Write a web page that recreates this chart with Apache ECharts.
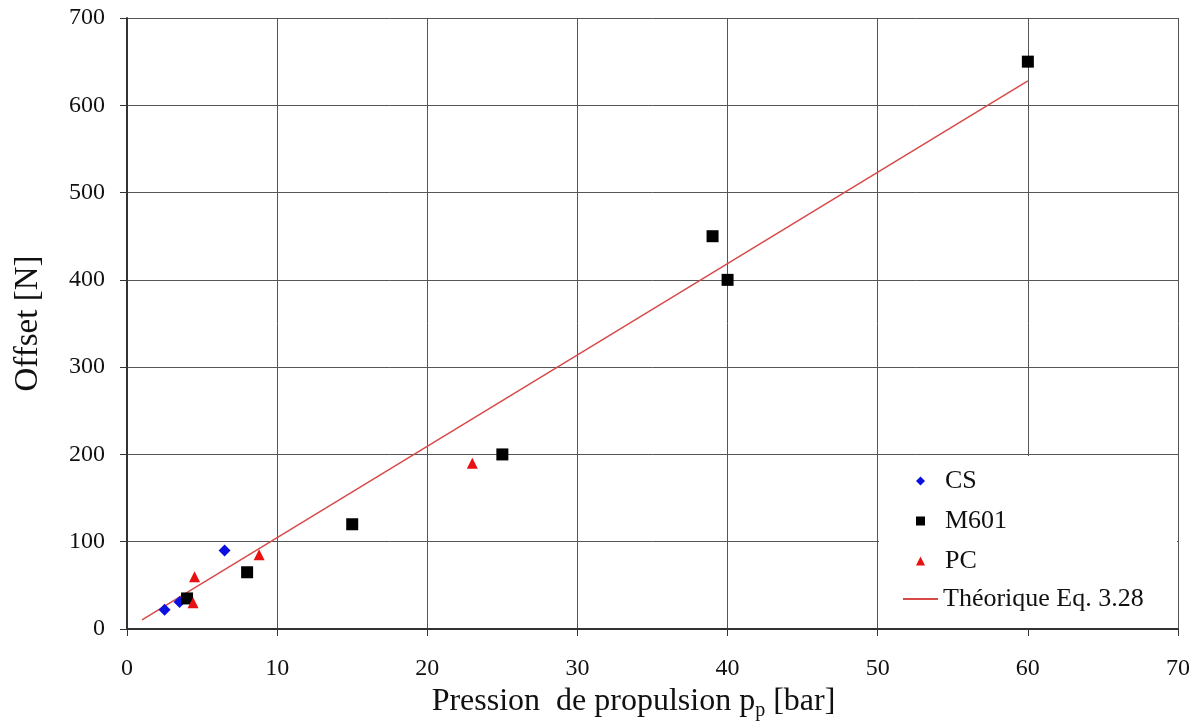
<!DOCTYPE html>
<html><head><meta charset="utf-8">
<script src="https://cdn.jsdelivr.net/npm/echarts@6/dist/echarts.min.js"></script>
<style>html,body{margin:0;padding:0;background:#fff}#c{width:1198px;height:722px}</style>
</head><body><div id="c"></div>
<script>
const csData = [[2.5, 22], [3.5, 31], [6.5, 90]];
const m601Data = [[4, 35], [8, 65], [15, 120], [25, 200], [39, 450], [40, 400], [60, 650]];
const pcData = [[4.5, 60], [4.4, 30], [8.8, 85], [23, 190]];
const theoData = [[1, 10.5], [60, 628]];
const seriesNames = ['CS', 'M601', 'PC', 'Théorique Eq. 3.28'];
const xTitle = 'Pression  de propulsion p';
const yTitle = 'Offset [N]';

const font = 'Liberation Serif';
const chart = echarts.init(document.getElementById('c'));
chart.setOption({
  animation: false,
  backgroundColor: '#fff',
  grid: {left: 127, right: 20, top: 18, bottom: 93, outerBoundsMode: 'none', containLabel: false},
  xAxis: {
    type: 'value', min: 0, max: 70, interval: 10,
    name: '{a|' + xTitle + '}{s|p}{b| [bar]}',
    nameLocation: 'middle', nameGap: 52,
    nameTextStyle: {rich: {
      a: {fontFamily: font, fontSize: 32, color: '#111'},
      b: {fontFamily: font, fontSize: 32, color: '#111', padding: [0, 38, 0, 0]},
      s: {fontFamily: font, fontSize: 20, color: '#111', padding: [18, 0, 0, 0]}}},
    axisLine: {onZero: false, lineStyle: {color: '#333', width: 2}},
    axisTick: {show: true, length: 7, lineStyle: {color: '#333'}},
    axisLabel: {fontFamily: font, fontSize: 24, color: '#111', margin: 28},
    splitLine: {show: true, lineStyle: {color: '#555', width: 1}}
  },
  yAxis: {
    type: 'value', min: 0, max: 700, interval: 100,
    name: yTitle, nameLocation: 'middle', nameGap: 82,
    nameTextStyle: {fontFamily: font, fontSize: 33, color: '#111'},
    axisLine: {onZero: false, lineStyle: {color: '#333', width: 2}},
    axisTick: {show: true, length: 7, lineStyle: {color: '#333'}},
    axisLabel: {fontFamily: font, fontSize: 24, color: '#111', margin: 22},
    splitLine: {show: true, lineStyle: {color: '#555', width: 1}}
  },
  graphic: [{type: 'rect', left: 879, top: 456, shape: {width: 298, height: 172}, style: {fill: '#fff'}, z: 1}],
  legend: [{
    orient: 'vertical', left: 916, top: 468, padding: 0,
    itemWidth: 9, itemHeight: 9, itemGap: 14,
    formatter: '{t|{name}}',
    textStyle: {rich: {t: {fontFamily: font, fontSize: 26, lineHeight: 26, color: '#111', padding: [0, 0, 0, 15]}}},
    data: seriesNames.slice(0, 3), z: 5
  }, {
    orient: 'vertical', left: 903, top: 586, padding: 0,
    itemWidth: 35, itemHeight: 2,
    textStyle: {fontFamily: font, fontSize: 26, lineHeight: 26, color: '#111'},
    data: [{name: seriesNames[3], icon: 'rect'}], z: 5
  }],
  series: [
    {name: seriesNames[0], type: 'scatter', data: csData, symbol: 'diamond', symbolSize: 12, itemStyle: {color: '#0a10e0', opacity: 1}, z: 3},
    {name: seriesNames[1], type: 'scatter', data: m601Data, symbol: 'rect', symbolSize: 12, itemStyle: {color: '#000', opacity: 1}, z: 4},
    {name: seriesNames[2], type: 'scatter', data: pcData, symbol: 'triangle', symbolSize: 11, itemStyle: {color: '#e81010', opacity: 1}, z: 5},
    {name: seriesNames[3], type: 'line', data: theoData, symbol: 'none', lineStyle: {color: '#d84a4a', width: 1.5}, itemStyle: {color: '#d84a4a'}, z: 2}
  ]
});
</script></body></html>
